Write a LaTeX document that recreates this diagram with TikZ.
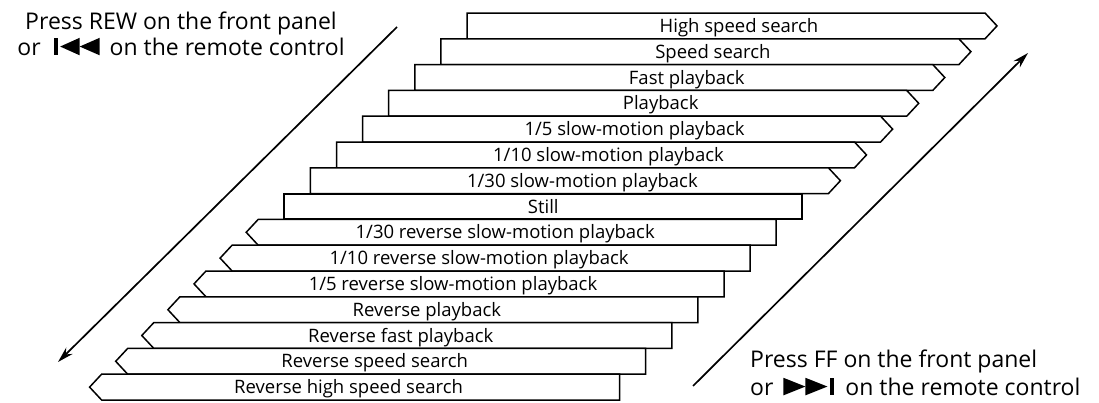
\documentclass[tikz,border=0pt]{standalone}
\usepackage{fontspec}
\setmainfont{Open Sans}
\usetikzlibrary{arrows.meta}
\tikzset{
  mode/.style={draw, fill=white, line width=1.5pt, line join=miter},
  modetext/.style={font=\fontsize{18.5}{20}\selectfont, inner sep=0pt, anchor=base},
  press/.style={font=\fontsize{23}{26}\selectfont, inner sep=0pt},
  dir/.style={line width=1.7pt, -{Stealth[length=16pt,width=9pt]}},
}
% remote control keys
\newcommand{\rewkey}{\tikz[x=1pt,y=1pt,baseline=0pt]{
  \fill (0,0) rectangle (4,17.5);
  \fill (26,0) -- (6.5,8.75) -- (26,17.5) -- cycle;
  \fill (46,0) -- (26,8.75) -- (46,17.5) -- cycle;}}
\newcommand{\ffkey}{\tikz[x=1pt,y=1pt,baseline=0pt]{
  \fill (0,0) -- (22,8.75) -- (0,17.5) -- cycle;
  \fill (22,0) -- (44,8.75) -- (22,17.5) -- cycle;
  \fill (47,0) rectangle (51,17.5);}}

\begin{document}
\begin{tikzpicture}[x=1pt,y=-1pt]
\useasboundingbox (0,0) rectangle (1099,402);
% forward modes
\foreach \i/\txt [evaluate=\i as \L using 467-26.1*\i,
                  evaluate=\i as \T using 13+25.8*\i] in
  {0/{High speed search}, 1/{Speed search}, 2/{Fast playback}, 3/{Playback},
   4/{1/5 slow-motion playback}, 5/{1/10 slow-motion playback},
   6/{1/30 slow-motion playback}}
{
  \draw[mode] (\L,\T) -- ++(518,0) -- ++(12,12.9) -- ++(-12,12.9) -- ++(-518,0) -- cycle;
  \node[modetext] (fwd\i) at (\L+272,\T+19.5) {\txt};
}
% reverse modes
\foreach \i/\txt [evaluate=\i as \L using 467-26.1*\i,
                  evaluate=\i as \T using 13+25.8*\i] in
  {8/{1/30 reverse slow-motion playback}, 9/{1/10 reverse slow-motion playback},
   10/{1/5 reverse slow-motion playback}, 11/{Reverse playback},
   12/{Reverse fast playback}, 13/{Reverse speed search},
   14/{Reverse high speed search}}
{
  \draw[mode] (\L,\T) -- ++(518,0) -- ++(0,25.8) -- ++(-518,0) -- ++(-12,-12.9) -- cycle;
  \node[modetext] (rev\i) at (\L+247,\T+19.5) {\txt};
}
% still
\draw[mode, line width=1.9pt] (284.3,193.6) rectangle ++(518,25.8);
\node[modetext] (still) at (543.3,213.1) {Still};

% direction arrows
\coordinate (rewtop) at (397,27);
\coordinate (rewend) at (58,362);
\draw[dir] (rewtop) -- (rewend);
\coordinate (ffbot) at (693,386);
\coordinate (ffend) at (1028,53);
\draw[dir] (ffbot) -- (ffend);

\node[press, align=center, anchor=north] (rewlabel) at (181,11.5)
  {Press REW on the front panel\\or\hspace{13pt}\rewkey\hspace{10pt}on the remote control};
\node[press, align=left, anchor=north west, font=\fontsize{23}{28}\selectfont] (fflabel) at (750,349.5)
  {Press FF on the front panel\\or\hspace{10pt}\ffkey\hspace{11pt}on the remote control};
\end{tikzpicture}
\end{document}
